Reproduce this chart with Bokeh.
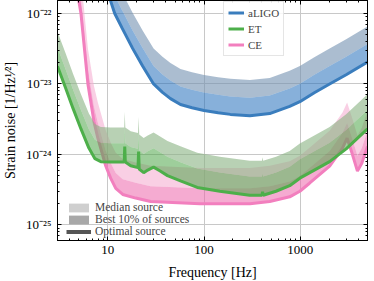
from bokeh.plotting import figure
from bokeh.models import (LogAxis, Legend, LegendItem, CustomJSTickFormatter,
                          Range1d, FixedTicker, ColumnDataSource)
from bokeh.embed import file_html
from bokeh.resources import INLINE

FONT = "Liberation Serif"

# ---------------- data ----------------
# optimal-source curves (strain noise, 1/sqrt(Hz))
aligo_freq = [10.0, 10.7, 11.8, 14.0, 18.1, 23.0, 29.9, 37.0, 44.8, 56.9, 75.0, 100.0,
              140.0, 188.0, 300.0, 482.0, 776.0, 991.0, 1400.0, 2020.0, 3000.0, 5000.0]
aligo_strain = [5.0e-22, 1.5e-22, 1.0e-22, 6.3e-23, 3.2e-23, 1.8e-23, 1.0e-23, 7.6e-24,
                6.2e-24, 5.1e-24, 4.6e-24, 4.2e-24, 3.9e-24, 3.7e-24, 3.55e-24, 3.8e-24,
                4.8e-24, 5.6e-24, 7.5e-24, 1.0e-23, 1.35e-23, 2.05e-23]

et_freq = [3.0, 3.65, 4.35, 5.26, 6.36, 7.35, 8.46, 10.7, 14.3, 14.8, 15.0, 15.2, 17.3,
           20.6, 20.9, 21.2, 23.6, 26.0, 29.9, 35.0, 41.7, 56.9, 85.0, 146.0, 298.0,
           400.0, 406.0, 412.0, 560.0, 777.0, 991.0, 2020.0, 3000.0, 5000.0]
et_strain = [1.78e-23, 8.7e-24, 4.5e-24, 2.3e-24, 1.23e-24, 8.7e-25, 7.9e-25, 7.8e-25,
             7.8e-25, 7.8e-25, 1.29e-24, 7.8e-25, 6.9e-25, 6.5e-25, 1.1e-24, 6.2e-25,
             5.5e-25, 6.0e-25, 6.6e-25, 5.8e-25, 5.0e-25, 4.2e-25, 3.4e-25, 3.0e-25,
             2.63e-25, 2.63e-25, 2.95e-25, 2.63e-25, 3.0e-25, 3.6e-25, 4.6e-25, 7.9e-25,
             1.2e-24, 2.3e-24]

ce_freq = [4.7, 5.0, 5.26, 6.21, 7.17, 7.88, 9.5, 10.7, 12.1, 14.3, 19.5, 27.8, 91.0,
           300.0, 482.0, 777.0, 991.0, 1248.0, 2020.0, 2750.0, 3070.0, 3470.0, 3930.0,
           4350.0, 5000.0]
ce_strain = [4.0e-22, 1.5e-22, 1.0e-22, 1.0e-23, 2.95e-24, 1.7e-24, 6.9e-25, 4.6e-25,
             3.3e-25, 2.7e-25, 2.4e-25, 2.15e-25, 2.0e-25, 2.0e-25, 2.15e-25, 2.5e-25,
             3.0e-25, 3.9e-25, 6.8e-25, 1.23e-24, 1.7e-24, 1.02e-24, 5.8e-25, 7.4e-25,
             1.3e-24]

# band scale factors (best 10% / median relative to optimal)
aligo_best10, aligo_median = 1.8, 3.2
et_best10, et_median = 1.85, 3.1
ce_best10, ce_median = 1.65, 3.2

detector_names = ["aLIGO", "ET", "CE"]
band_names = ["Median source", "Best 10% of sources", "Optimal source"]
x_ticks = [10, 100, 1000]
y_ticks = [1e-25, 1e-24, 1e-23, 1e-22]
x_label = "Frequency [Hz]"
y_label = "Strain noise [1/Hz¹⁄²]"

# ---------------- figure ----------------
p = figure(x_axis_type="log", y_axis_type="log",
           x_range=Range1d(3.0, 5000.0), y_range=Range1d(6.0e-26, 1.53e-22),
           frame_width=310, frame_height=240,
           min_border_left=57, min_border_right=3, min_border_top=0, min_border_bottom=39,
           output_backend="svg", toolbar_location=None)
p.background_fill_color = "white"
p.border_fill_color = "white"
p.outline_line_color = "black"
p.outline_line_width = 1

x_minor = [m * d for d in [1, 10, 100, 1000] for m in range(2, 10)]
y_minor = [m * d for d in [1e-26, 1e-25, 1e-24, 1e-23, 1e-22] for m in range(2, 10)]
xt = FixedTicker(ticks=x_ticks, minor_ticks=x_minor)
yt = FixedTicker(ticks=y_ticks, minor_ticks=y_minor)


def style_axis(ax):
    ax.major_tick_in = 4
    ax.major_tick_out = 0
    ax.minor_tick_in = 2
    ax.minor_tick_out = 0
    ax.axis_line_color = "black"
    ax.major_tick_line_color = "black"
    ax.minor_tick_line_color = "black"
    ax.major_label_text_font = FONT
    ax.major_label_text_font_size = "13px"
    ax.major_label_text_color = "black"
    ax.axis_label_text_font = FONT
    ax.axis_label_text_font_size = "14px"
    ax.axis_label_text_font_style = "normal"
    ax.axis_label_text_color = "black"


xa = p.xaxis[0]
ya = p.yaxis[0]
xa.ticker = xt
ya.ticker = yt
style_axis(xa)
style_axis(ya)
xa.formatter = CustomJSTickFormatter(code="return String(Math.round(tick));")
ya.formatter = CustomJSTickFormatter(code="""
const e = Math.round(Math.log10(tick));
const m = {'-':'\u207b','0':'\u2070','1':'\u00b9','2':'\u00b2','3':'\u00b3','4':'\u2074',
           '5':'\u2075','6':'\u2076','7':'\u2077','8':'\u2078','9':'\u2079'};
let s = '';
for (const c of String(e)) { s += m[c]; }
return '10' + s;
""")
xa.axis_label = x_label
ya.axis_label = y_label
xa.major_label_standoff = 5
xa.axis_label_standoff = 8
ya.major_label_standoff = 6
ya.axis_label_standoff = 5

for loc, tick in (("above", xt), ("right", yt)):
    ax = LogAxis(ticker=tick)
    style_axis(ax)
    ax.major_label_text_font_size = "1px"
    ax.major_label_text_color = None
    ax.major_label_standoff = 0
    p.add_layout(ax, loc)

p.xgrid.ticker = xt
p.ygrid.ticker = yt
for g in (p.xgrid[0], p.ygrid[0]):
    g.grid_line_color = "#c8c8c8"
    g.grid_line_width = 1
    g.minor_grid_line_color = None


def draw(freq, strain, best, median, line_color, dark_fill, light_fill):
    src = ColumnDataSource(dict(
        f=freq, h=strain,
        hb=[v * best for v in strain],
        hm=[v * median for v in strain]))
    p.varea(x="f", y1="hb", y2="hm", source=src, fill_color=light_fill, fill_alpha=0.6)
    p.varea(x="f", y1="h", y2="hb", source=src, fill_color=dark_fill, fill_alpha=0.55)
    return p.line(x="f", y="h", source=src, line_color=line_color, line_width=3)


r_ce = draw(ce_freq, ce_strain, ce_best10, ce_median, "#f27fbe", "#ed66ac", "#f5afd2")
r_et = draw(et_freq, et_strain, et_best10, et_median, "#4daf4a", "#4fa548", "#88b382")
r_aligo = draw(aligo_freq, aligo_strain, aligo_best10, aligo_median, "#3a7dbd", "#2570bb", "#7391b1")

leg = Legend(items=[LegendItem(label=detector_names[0], renderers=[r_aligo]),
                    LegendItem(label=detector_names[1], renderers=[r_et]),
                    LegendItem(label=detector_names[2], renderers=[r_ce])],
             location=(166, 184))
leg.label_text_font = FONT
leg.label_text_font_size = "11px"
leg.glyph_width = 16
leg.glyph_height = 13
leg.label_height = 13
leg.spacing = 3
leg.padding = 4
leg.margin = 0
leg.label_standoff = 4
leg.border_line_color = "#cccccc"
leg.border_line_width = 1
leg.background_fill_alpha = 0.85
p.add_layout(leg)

# gray key for the three band meanings (legend only)
g_src = ColumnDataSource(dict(x=[1.0], y0=[1e-30], y1=[1e-30]))
g_med = p.varea(x="x", y1="y0", y2="y1", source=g_src, fill_color="#cfcfcf")
g_b10 = p.varea(x="x", y1="y0", y2="y1", source=g_src, fill_color="#a8a8a8")
g_opt = p.line(x="x", y="y0", source=g_src, line_color="#555555", line_width=4)
leg2 = Legend(items=[LegendItem(label=band_names[0], renderers=[g_med]),
                     LegendItem(label=band_names[1], renderers=[g_b10]),
                     LegendItem(label=band_names[2], renderers=[g_opt])],
              location=(9, 3))
leg2.label_text_font = FONT
leg2.label_text_font_size = "11.5px"
leg2.glyph_width = 25
leg2.glyph_height = 11
leg2.label_height = 11
leg2.spacing = 0
leg2.padding = 0
leg2.margin = 0
leg2.label_standoff = 4
leg2.border_line_color = None
leg2.background_fill_alpha = 0
p.add_layout(leg2)

open("out.html", "w").write(file_html(p, INLINE))
